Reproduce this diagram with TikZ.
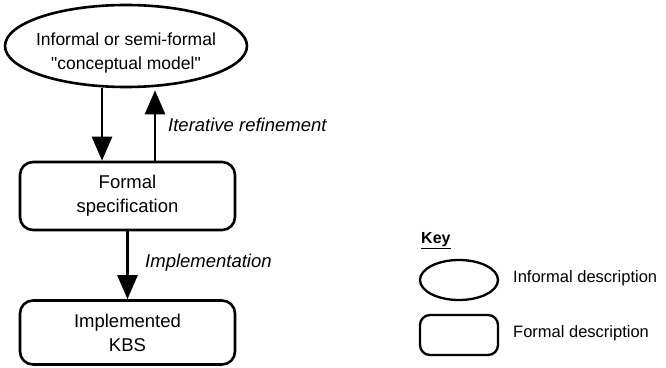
\documentclass[tikz,border=0pt]{standalone}
\usepackage{fontspec}
\setmainfont{Liberation Sans}[Ligatures=TeXOff]
\usetikzlibrary{shapes.geometric,arrows.meta}
\tikzset{
  mainfont/.style={font=\fontsize{18.5}{24}\selectfont},
  ellfont/.style={font=\fontsize{17.5}{24}\selectfont},
  keyfont/.style={font=\fontsize{16.5}{20}\selectfont},
  infobox/.style={draw, line width=2.6pt, ellipse, inner sep=0pt},
  formbox/.style={draw, line width=2.6pt, rounded corners=13pt, inner sep=0pt, align=center, mainfont},
  arr/.style={line width=2.6pt, -{Triangle[width=20pt,length=24pt]}},
  lbl/.style={anchor=west, inner sep=0pt, font=\fontsize{18.5}{24}\selectfont\itshape}
}
\begin{document}
\begin{tikzpicture}[x=1pt,y=-1pt]
\useasboundingbox (0,0) rectangle (666,367);
% main diagram
\node[infobox, minimum width=242pt, minimum height=82pt] (ell) at (126,46) {};
\node[ellfont, align=center, inner sep=0pt] (elltext) at (126,53) {Informal or semi-formal\\"conceptual model"};
\node[formbox, minimum width=215pt, minimum height=68pt] (spec) at (127.5,196) {Formal\\specification};
\node[formbox, minimum width=215pt, minimum height=64pt] (impl) at (127.5,332.5) {Implemented\\KBS};
\draw[arr] ([xshift=-24pt]ell.south) -- ([xshift=-25.5pt]spec.north);
\draw[arr] ([xshift=27.5pt]spec.north) -- ([xshift=29pt,yshift=-2pt]ell.south);
\draw[arr] (spec.south) -- (impl.north);
\node[lbl] (iter) at (168,125) {Iterative refinement};
\node[lbl] (implab) at (145,263) {Implementation};
% key
\node[anchor=west, inner sep=0pt, font=\fontsize{16}{20}\selectfont\bfseries] (key) at (421,241) {\underline{Key}};
\node[draw, line width=2.3pt, ellipse, inner sep=0pt, minimum width=78pt, minimum height=40pt] (kell) at (459,280) {};
\node[anchor=west, inner sep=0pt, keyfont] (kelltext) at (513,278) {Informal description};
\node[draw, line width=2.3pt, rounded corners=10pt, inner sep=0pt, minimum width=78pt, minimum height=40pt] (kbox) at (459,335) {};
\node[anchor=west, inner sep=0pt, keyfont] (kboxtext) at (513,333) {Formal description};
\end{tikzpicture}
\end{document}
